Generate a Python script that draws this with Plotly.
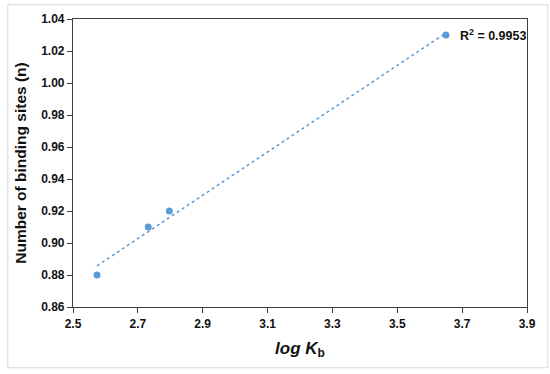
import numpy as np
import plotly.graph_objects as go

log_kb = [2.574, 2.732, 2.797, 3.650]
n_sites = [0.88, 0.91, 0.92, 1.03]
r2_label = "R<sup>2</sup> = 0.9953"
x_ticks = [2.5, 2.7, 2.9, 3.1, 3.3, 3.5, 3.7, 3.9]
y_ticks = [0.86, 0.88, 0.90, 0.92, 0.94, 0.96, 0.98, 1.00, 1.02, 1.04]

blue = "#5B9BD5"
font_family = "Liberation Sans, Arial, sans-serif"

slope, intercept = np.polyfit(log_kb, n_sites, 1)
fit_x = [min(log_kb), max(log_kb)]
fit_y = [slope * v + intercept for v in fit_x]

fig = go.Figure()
fig.add_trace(go.Scatter(x=fit_x, y=fit_y, mode="lines",
                         line=dict(color=blue, width=1.5, dash="dot"),
                         hoverinfo="skip", showlegend=False))
fig.add_trace(go.Scatter(x=log_kb, y=n_sites, mode="markers",
                         marker=dict(color=blue, size=7), showlegend=False))

fig.add_annotation(x=log_kb[-1], y=n_sites[-1], text=r2_label, showarrow=False,
                   xanchor="left", yanchor="middle", xshift=12,
                   font=dict(family=font_family, size=12.5, color="#111111", weight="bold"))

fig.add_shape(type="rect", xref="paper", yref="paper",
              x0=-0.1435, x1=1.0458, y0=-0.2109, y1=1.0498,
              line=dict(color="#D9D9D9", width=1), layer="below")

axis_common = dict(showgrid=False, zeroline=False, showline=True, mirror=True,
                   linecolor="#404040", linewidth=1.2, ticks="outside", ticklen=5,
                   tickcolor="#404040", tickwidth=1.2,
                   tickfont=dict(family=font_family, size=12, color="#111111", weight="bold"))

fig.update_xaxes(range=[2.5, 3.9], tickvals=x_ticks, tickformat=".1f",
                 title=dict(text="<i>log K</i><sub>b</sub>", standoff=12,
                            font=dict(family=font_family, size=17, color="#111111", weight="bold")),
                 **axis_common)
fig.update_yaxes(range=[0.86, 1.04], tickvals=y_ticks, tickformat=".2f",
                 title=dict(text="Number of binding sites (n)", standoff=10,
                            font=dict(family=font_family, size=15.5, color="#111111", weight="bold")),
                 **axis_common)

fig.update_layout(width=550, height=374, margin=dict(l=72.5, r=23.3, t=19.3, b=67.3),
                  paper_bgcolor="white", plot_bgcolor="white")

fig.write_html("out.html", config={"displayModeBar": False},
               post_script="document.body.style.margin='0';")
